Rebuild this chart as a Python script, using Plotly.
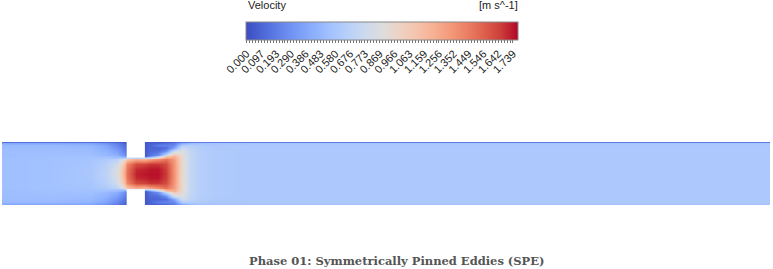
import plotly.graph_objects as go

# ---- colour bar labels ----
cb_labels = ["0.000", "0.097", "0.193", "0.290", "0.386", "0.483", "0.580",
             "0.676", "0.773", "0.869", "0.966", "1.063", "1.159", "1.256",
             "1.352", "1.449", "1.546", "1.642", "1.739"]
v_min = 0.0
v_max = 1.775

# ---- sample stations (mm) ----
x_mm = [0, 15, 28, 33, 36.5, 38.7, 39.6, 42.5, 45.4, 47, 49.5, 52, 54.6, 57.1,
        59.7, 63, 68, 80, 150, 244]
y_mm = [10, 9.6, 9, 8, 7, 6, 5.5, 5, 4.5, 3, 1.5, 0,
        -1.5, -3, -4.5, -5, -5.5, -6, -7, -8, -9, -9.6, -10]

# velocity profiles (top wall -> bottom wall) at each x station, m/s
p00 = [0.15,0.40,0.50,0.52,0.53,0.53,0.53,0.54,0.54,0.54,0.54,0.54,0.54,0.54,0.54,0.54,0.53,0.53,0.53,0.52,0.50,0.40,0.15]
p15 = [0.15,0.40,0.50,0.52,0.53,0.54,0.54,0.55,0.55,0.55,0.55,0.55,0.55,0.55,0.55,0.55,0.54,0.54,0.53,0.52,0.50,0.40,0.15]
p28 = [0.15,0.38,0.47,0.50,0.52,0.54,0.55,0.56,0.57,0.58,0.59,0.59,0.59,0.58,0.57,0.56,0.55,0.54,0.52,0.50,0.47,0.38,0.15]
p33 = [0.12,0.30,0.38,0.42,0.46,0.50,0.54,0.58,0.62,0.66,0.68,0.69,0.68,0.66,0.62,0.58,0.54,0.50,0.46,0.42,0.38,0.30,0.12]
p36 = [0.08,0.20,0.25,0.30,0.36,0.44,0.50,0.58,0.68,0.80,0.85,0.87,0.85,0.80,0.68,0.58,0.50,0.44,0.36,0.30,0.25,0.20,0.08]
p38 = [0.05,0.10,0.14,0.18,0.22,0.30,0.40,0.62,0.92,1.12,1.20,1.22,1.20,1.12,0.92,0.62,0.40,0.30,0.22,0.18,0.14,0.10,0.05]
p39 = [0.03,0.05,0.06,0.08,0.10,0.15,0.25,0.75,1.10,1.42,1.48,1.50,1.48,1.42,1.10,0.75,0.25,0.15,0.10,0.08,0.06,0.05,0.03]
p42 = [0.05,0.05,0.05,0.05,0.05,0.05,0.10,0.70,1.25,1.62,1.70,1.72,1.70,1.62,1.25,0.70,0.10,0.05,0.05,0.05,0.05,0.05,0.05]
p45 = [0.05,0.05,0.05,0.05,0.05,0.06,0.10,0.75,1.20,1.65,1.72,1.74,1.72,1.65,1.20,0.75,0.10,0.06,0.05,0.05,0.05,0.05,0.05]
p47 = [0.05,0.08,0.10,0.10,0.12,0.16,0.28,0.80,1.30,1.68,1.74,1.75,1.74,1.68,1.30,0.80,0.28,0.16,0.12,0.10,0.10,0.08,0.05]
p49 = [0.05,0.10,0.20,0.10,0.14,0.28,0.60,1.05,1.38,1.68,1.74,1.75,1.74,1.68,1.38,1.05,0.60,0.28,0.14,0.10,0.20,0.10,0.05]
p52 = [0.06,0.14,0.22,0.14,0.30,0.75,1.10,1.32,1.48,1.62,1.66,1.67,1.66,1.62,1.48,1.32,1.10,0.75,0.30,0.14,0.22,0.14,0.06]
p54 = [0.10,0.20,0.25,0.40,0.80,1.10,1.22,1.28,1.32,1.35,1.36,1.36,1.36,1.35,1.32,1.28,1.22,1.10,0.80,0.40,0.25,0.20,0.10]
p57 = [0.18,0.42,0.62,0.80,0.88,0.92,0.94,0.95,0.95,0.95,0.95,0.95,0.95,0.95,0.95,0.95,0.94,0.92,0.88,0.80,0.62,0.42,0.18]
p59 = [0.20,0.52,0.64,0.70,0.72,0.73,0.73,0.73,0.73,0.73,0.73,0.73,0.73,0.73,0.73,0.73,0.73,0.73,0.72,0.70,0.64,0.52,0.20]
p63 = [0.20,0.55,0.62,0.64,0.65,0.65,0.65,0.65,0.65,0.65,0.65,0.65,0.65,0.65,0.65,0.65,0.65,0.65,0.65,0.64,0.62,0.55,0.20]
p68 = [0.20,0.56,0.60,0.61,0.62,0.62,0.62,0.62,0.62,0.62,0.62,0.62,0.62,0.62,0.62,0.62,0.62,0.62,0.62,0.61,0.60,0.56,0.20]
p80 = [0.20,0.57,0.60,0.60,0.60,0.60,0.60,0.60,0.60,0.60,0.60,0.60,0.60,0.60,0.60,0.60,0.60,0.60,0.60,0.60,0.60,0.57,0.20]
p150 = [0.20,0.57,0.60,0.60,0.60,0.60,0.60,0.60,0.60,0.60,0.60,0.60,0.60,0.60,0.60,0.60,0.60,0.60,0.60,0.60,0.60,0.57,0.20]
p244 = [0.20,0.57,0.60,0.60,0.60,0.60,0.60,0.60,0.60,0.60,0.60,0.60,0.60,0.60,0.60,0.60,0.60,0.60,0.60,0.60,0.60,0.57,0.20]

profiles = [p00, p15, p28, p33, p36, p38, p39, p42, p45, p47, p49, p52, p54, p57,
            p59, p63, p68, p80, p150, p244]
assert len(profiles) == len(x_mm)
assert all(len(p) == len(y_mm) for p in profiles)
z = [list(row) for row in zip(*profiles)]

# geometry of the orifice plate (mm)
plate_x0, plate_x1 = 39.6, 45.4
gap_half = 5.0
chan_len, chan_half = 244, 10

coolwarm = [
    [0.0, "rgb(59,76,192)"], [0.0625, "rgb(77,104,215)"], [0.125, "rgb(98,130,234)"],
    [0.1875, "rgb(119,154,247)"], [0.25, "rgb(141,176,254)"], [0.3125, "rgb(163,194,255)"],
    [0.375, "rgb(184,208,249)"], [0.4375, "rgb(204,217,238)"], [0.5, "rgb(221,221,221)"],
    [0.5625, "rgb(236,211,197)"], [0.625, "rgb(245,196,173)"], [0.6875, "rgb(247,177,148)"],
    [0.75, "rgb(244,154,123)"], [0.8125, "rgb(236,127,99)"], [0.875, "rgb(222,96,77)"],
    [0.9375, "rgb(203,62,56)"], [1.0, "rgb(180,4,38)"]]

step = float(cb_labels[-1]) / (len(cb_labels) - 1)
tickvals, ticktext = [], []
for i in range(len(cb_labels) - 1):
    for k in range(5):
        tickvals.append((i + k / 5) * step)
        ticktext.append(cb_labels[i] if k == 0 else "")
tickvals.append(float(cb_labels[-1]))
ticktext.append(cb_labels[-1])

W, H = 773, 269
fig = go.Figure()
fig.add_trace(go.Heatmap(
    x=x_mm, y=y_mm, z=z, zmin=v_min, zmax=v_max, zsmooth="best",
    colorscale=coolwarm, hoverinfo="skip",
    colorbar=dict(
        orientation="h", thickness=18, thicknessmode="pixels",
        len=272, lenmode="pixels", x=382.5 / W, xanchor="center",
        y=1 - 22 / H, yanchor="top", xpad=0, ypad=0,
        outlinewidth=1, outlinecolor="#888",
        tickmode="array", tickvals=tickvals, ticktext=ticktext,
        ticks="outside", ticklen=3, tickwidth=1, tickcolor="#777",
        tickangle=-45, tickfont=dict(family="Liberation Sans, Arial", size=11, color="#222"),
    ),
))

fig.add_shape(type="rect", x0=plate_x0, x1=plate_x1, y0=gap_half, y1=chan_half + 1,
              fillcolor="white", line=dict(width=0), layer="above")
fig.add_shape(type="rect", x0=plate_x0, x1=plate_x1, y0=-chan_half - 1, y1=-gap_half,
              fillcolor="white", line=dict(width=0), layer="above")

fig.add_annotation(text="Velocity", xref="paper", yref="paper", x=246 / W, y=1 - 5 / H,
                   xanchor="left", yanchor="middle", showarrow=False,
                   font=dict(family="Liberation Sans, Arial", size=11, color="#222"))
fig.add_annotation(text="[m s^-1]", xref="paper", yref="paper", x=520 / W, y=1 - 5 / H,
                   xanchor="right", yanchor="middle", showarrow=False,
                   font=dict(family="Liberation Sans, Arial", size=11, color="#222"))
fig.add_annotation(text="<b>Phase 01: Symmetrically Pinned Eddies (SPE)</b>",
                   xref="paper", yref="paper", x=396 / W, y=1 - 261 / H,
                   xanchor="center", yanchor="middle", showarrow=False,
                   font=dict(family="DejaVu Serif", size=11.5, color="#555"))

fig.update_xaxes(visible=False, range=[0, chan_len], domain=[2 / W, 770 / W])
fig.update_yaxes(visible=False, range=[-chan_half, chan_half],
                 domain=[1 - 205 / H, 1 - 142 / H])
fig.update_layout(width=W, height=H,
                  margin=dict(l=0, r=0, t=0, b=0, autoexpand=False),
                  paper_bgcolor="white", plot_bgcolor="white", showlegend=False)
fig.write_html("out.html", config={"displayModeBar": False},
               post_script="document.body.style.margin='0px';document.body.style.padding='0px';")
